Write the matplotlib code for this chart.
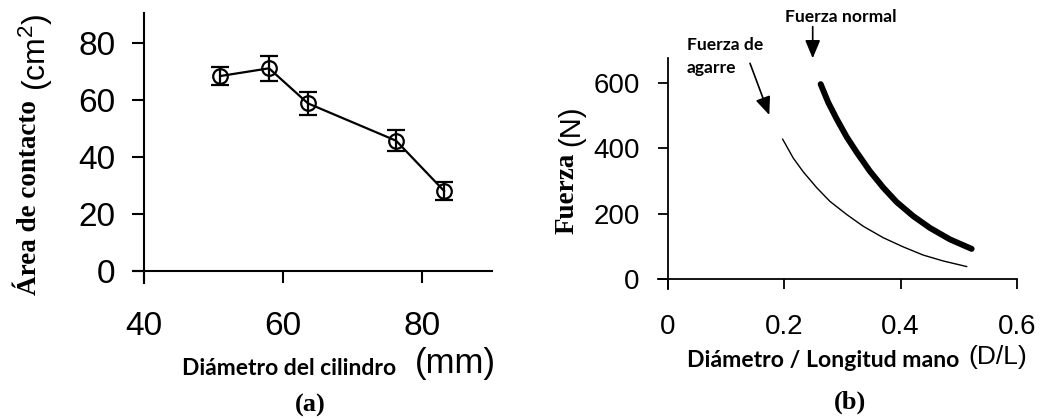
import matplotlib
matplotlib.use("Agg")
import matplotlib.pyplot as plt

# ---- data ----
diam = [51.0, 58.0, 63.6, 76.3, 83.2]
area = [68.4, 71.1, 58.8, 45.7, 28.1]
area_err = [3.0, 4.4, 4.1, 3.7, 3.1]
xticks_a = [40, 60, 80]
yticks_a = [0, 20, 40, 60, 80]

dl_agarre = [0.1974, 0.2157, 0.2329, 0.2558, 0.2786, 0.3073, 0.3358, 0.3702,
             0.4045, 0.4388, 0.4731, 0.5133]
f_agarre = [428, 370, 328, 280, 238, 198, 162, 127, 99, 74, 56, 39]
dl_normal = [0.2627, 0.2757, 0.2901, 0.3073, 0.3245, 0.3473, 0.3702, 0.3931,
             0.4216, 0.4503, 0.4846, 0.5219]
f_normal = [596, 540, 490, 435, 388, 330, 280, 236, 193, 157, 122, 93]
xticks_b = [0, 0.2, 0.4, 0.6]
xticklabels_b = ["0", "0.2", "0.4", "0.6"]
yticks_b = [0, 200, 400, 600]

W, H = 1042, 419
fig = plt.figure(figsize=(W / 100, H / 100), dpi=100)


def fx(x):
    return x / W


def fy(y):
    return 1 - y / H


SANS = "Liberation Sans"
SERIF = "Liberation Serif"
CAL = "Lato"

# ---- panel (a) ----
axa = fig.add_axes([fx(134), fy(283), fx(492) - fx(134), fy(13) - fy(283)])
axa.errorbar(diam, area, yerr=area_err, color="black", lw=1.6, marker="o",
             ms=10.5, mfc="none", mec="black", mew=1.6, capsize=6.5,
             capthick=1.6, elinewidth=1.6)
axa.set_xlim(38.56, 90.1)
axa.set_ylim(-4.2, 90.5)
axa.spines["left"].set_position(("data", 40))
axa.spines["bottom"].set_position(("data", 0))
for s in ["top", "right"]:
    axa.spines[s].set_visible(False)
for s in ["left", "bottom"]:
    axa.spines[s].set_linewidth(1.5)
axa.set_xticks(xticks_a)
axa.set_yticks(yticks_a)
axa.tick_params(axis="both", direction="out", length=8.6, width=1.5,
                labelsize=24)
axa.tick_params(axis="x", pad=20)
axa.tick_params(axis="y", pad=12)
for lab in axa.get_xticklabels() + axa.get_yticklabels():
    lab.set_fontfamily(SANS)

fig.text(fx(30), fy(198), "Área de contacto", rotation=90, ha="center",
         va="center", fontfamily=SERIF, fontweight="bold", fontsize=19.5)
fig.text(fx(36), fy(52), r"$\mathregular{(cm^2)}$", rotation=90, ha="center",
         va="center", fontfamily=SANS, fontsize=23)
fig.text(fx(182), fy(368), "Diámetro del cilindro", ha="left", va="center",
         fontfamily=CAL, fontweight="bold", fontsize=16.5)
fig.text(fx(415), fy(363), "(mm)", ha="left", va="center",
         fontfamily=SANS, fontsize=25)
fig.text(fx(310), fy(405), "(a)", ha="center", va="center",
         fontfamily=SERIF, fontweight="bold", fontsize=19)

# ---- panel (b) ----
axb = fig.add_axes([fx(658.3), fy(289.3), fx(1017.3) - fx(658.3),
                    fy(58.3) - fy(289.3)])
axb.plot(dl_agarre, f_agarre, color="black", lw=1.0)
axb.plot(dl_normal, f_normal, color="black", lw=4.3, solid_capstyle="round",
         solid_joinstyle="round")
axb.set_xlim(-0.0161, 0.6003)
axb.set_ylim(-30.5, 675)
axb.spines["left"].set_position(("data", 0))
axb.spines["bottom"].set_position(("data", 0))
for s in ["top", "right"]:
    axb.spines[s].set_visible(False)
for s in ["left", "bottom"]:
    axb.spines[s].set_linewidth(1.3)
axb.set_xticks(xticks_b)
axb.set_xticklabels(xticklabels_b)
axb.set_yticks(yticks_b)
axb.tick_params(axis="both", direction="out", length=7.2, width=1.3,
                labelsize=20)
axb.tick_params(axis="x", pad=18)
axb.tick_params(axis="y", pad=13)
for lab in axb.get_xticklabels() + axb.get_yticklabels():
    lab.set_fontfamily(SANS)

fig.text(fx(567), fy(193), "Fuerza", rotation=90, ha="center", va="center",
         fontfamily=SERIF, fontweight="bold", fontsize=19.5)
fig.text(fx(571), fy(126), "(N)", rotation=90, ha="center", va="center",
         fontfamily=SANS, fontsize=21)
fig.text(fx(687), fy(360), "Diámetro / Longitud mano", ha="left",
         va="center", fontfamily=CAL, fontweight="bold", fontsize=16.6)
fig.text(fx(968), fy(357), "(D/L)", ha="left", va="center",
         fontfamily=SANS, fontsize=19)
fig.text(fx(850), fy(402), "(b)", ha="center", va="center",
         fontfamily=SERIF, fontweight="bold", fontsize=19)

# annotations
fig.text(fx(785), fy(17), "Fuerza normal", ha="left", va="center",
         fontfamily=CAL, fontweight="bold", fontsize=12.6)
fig.text(fx(687), fy(45), "Fuerza de", ha="left", va="center",
         fontfamily=CAL, fontweight="bold", fontsize=12.6)
fig.text(fx(687), fy(68), "agarre", ha="left", va="center",
         fontfamily=CAL, fontweight="bold", fontsize=12.6)

arrow = dict(arrowstyle="-|>,head_length=0.55,head_width=0.23", lw=1.2,
             color="black", mutation_scale=20, shrinkA=0, shrinkB=0)
fig.add_artist(matplotlib.patches.FancyArrowPatch(
    (fx(812.7), fy(26.7)), (fx(812.7), fy(58.3)), transform=fig.transFigure,
    **arrow))
fig.add_artist(matplotlib.patches.FancyArrowPatch(
    (fx(750), fy(63.3)), (fx(769.3), fy(115)), transform=fig.transFigure,
    **arrow))

fig.savefig("out.png", dpi=100)
